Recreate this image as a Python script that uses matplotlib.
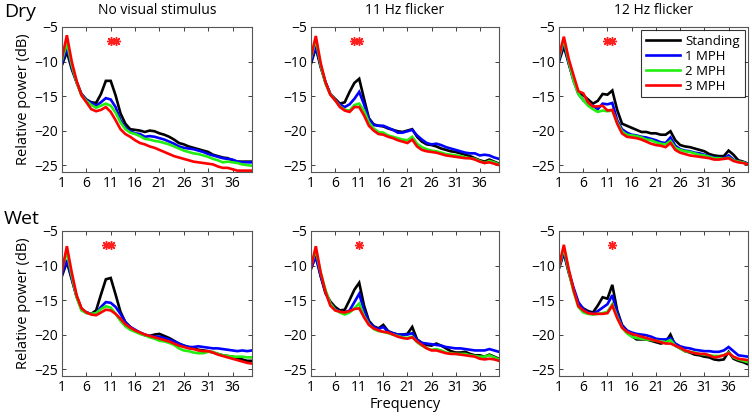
import matplotlib
matplotlib.use("Agg")
import matplotlib.pyplot as plt
import numpy as np

plt.rcParams['font.family'] = ['Open Sans', 'DejaVu Sans']

freq = list(range(1, 41))
series_names = ["Standing", "1 MPH", "2 MPH", "3 MPH"]
series_colors = ["#000000", "#0000ff", "#22ee11", "#ff0000"]
row_labels = ["Dry", "Wet"]
col_titles = ["No visual stimulus", "11 Hz flicker", "12 Hz flicker"]
xticks = [1, 6, 11, 16, 21, 26, 31, 36]
yticks = [-5, -10, -15, -20, -25]

# Dry, no visual stimulus
dry_none_standing = [-10.5, -8.6, -11.1, -13.0, -14.7, -15.5, -15.9, -16.0, -14.7, -12.8, -12.8, -14.9, -17.5, -19.0, -19.8, -19.9, -20.0, -20.2, -20.0, -20.1, -20.4, -20.6, -20.9, -21.3, -21.8, -22.0, -22.3, -22.5, -22.7, -22.9, -23.1, -23.5, -23.7, -23.9, -24.0, -24.3, -24.5, -24.5, -24.5, -24.5]
dry_none_1mph = [-10.3, -8.0, -10.8, -13.0, -14.8, -15.6, -16.0, -16.4, -15.9, -15.3, -15.5, -16.6, -18.5, -19.6, -20.1, -20.4, -20.5, -20.9, -20.8, -20.9, -21.1, -21.3, -21.6, -21.9, -22.3, -22.5, -22.6, -22.7, -22.9, -23.1, -23.4, -23.6, -23.8, -24.0, -24.1, -24.2, -24.5, -24.6, -24.6, -24.6]
dry_none_2mph = [-9.8, -7.3, -10.5, -13.0, -14.9, -15.7, -16.3, -16.7, -16.4, -16.1, -16.4, -17.4, -18.8, -19.8, -20.3, -20.5, -20.8, -21.2, -21.3, -21.5, -21.6, -21.8, -22.0, -22.3, -22.6, -22.9, -23.1, -23.3, -23.4, -23.6, -23.8, -24.1, -24.3, -24.6, -24.5, -24.6, -24.7, -24.9, -25.0, -25.1]
dry_none_3mph = [-9.5, -6.2, -10.0, -12.8, -14.9, -15.9, -16.9, -17.2, -17.0, -16.6, -17.3, -18.5, -19.8, -20.5, -20.9, -21.4, -21.8, -22.0, -22.3, -22.5, -22.8, -23.1, -23.4, -23.7, -23.9, -24.1, -24.3, -24.5, -24.6, -24.7, -24.8, -24.9, -25.2, -25.4, -25.4, -25.6, -25.8, -25.8, -25.8, -25.8]

# Dry, 11 Hz flicker
dry_11_standing = [-10.3, -8.0, -10.8, -13.0, -14.7, -15.4, -16.1, -15.9, -14.4, -13.1, -12.5, -15.4, -18.2, -19.1, -19.3, -19.4, -19.7, -19.9, -20.1, -20.2, -20.0, -19.8, -20.9, -21.6, -22.0, -22.1, -22.3, -22.6, -22.8, -23.0, -23.1, -23.3, -23.5, -23.7, -24.0, -24.3, -24.5, -24.2, -24.5, -24.8]
dry_11_1mph = [-10.0, -7.8, -10.6, -13.0, -14.7, -15.6, -16.2, -16.6, -16.2, -15.4, -14.4, -16.2, -18.3, -19.2, -19.3, -19.3, -19.6, -19.9, -20.3, -20.3, -20.1, -19.9, -20.7, -21.3, -21.8, -22.0, -21.9, -22.1, -22.4, -22.6, -22.8, -23.0, -23.2, -23.3, -23.3, -23.6, -23.5, -23.6, -23.9, -24.1]
dry_11_2mph = [-9.5, -6.8, -10.5, -13.2, -14.7, -15.6, -16.5, -17.0, -17.1, -16.3, -16.1, -17.1, -18.8, -19.7, -20.2, -20.3, -20.7, -20.9, -21.1, -21.3, -21.4, -20.9, -21.9, -22.4, -22.7, -22.9, -23.0, -23.2, -23.4, -23.5, -23.6, -23.7, -23.9, -24.0, -24.1, -24.4, -24.7, -24.4, -24.6, -24.9]
dry_11_3mph = [-9.3, -6.3, -10.2, -13.0, -14.8, -15.6, -16.6, -17.1, -17.3, -16.6, -16.6, -17.8, -19.3, -20.0, -20.5, -20.6, -20.9, -21.1, -21.4, -21.6, -21.8, -21.3, -22.3, -22.8, -23.0, -23.1, -23.2, -23.4, -23.6, -23.7, -23.8, -23.9, -24.0, -24.0, -24.2, -24.5, -24.7, -24.6, -24.8, -25.0]

# Dry, 12 Hz flicker
dry_12_standing = [-10.0, -7.8, -10.3, -12.6, -14.4, -14.9, -15.5, -16.1, -15.7, -14.7, -14.8, -14.2, -17.0, -19.0, -19.3, -19.6, -19.9, -20.2, -20.2, -20.4, -20.4, -20.6, -20.6, -20.1, -21.4, -22.1, -22.3, -22.4, -22.6, -22.8, -23.0, -23.4, -23.6, -23.7, -23.7, -22.9, -23.5, -24.3, -24.5, -24.8]
dry_12_1mph = [-9.8, -7.2, -10.2, -12.8, -14.7, -15.6, -16.2, -16.4, -16.9, -16.1, -16.2, -16.0, -18.5, -19.8, -20.3, -20.6, -20.7, -20.9, -21.0, -21.2, -21.4, -21.7, -21.8, -21.0, -22.2, -22.7, -22.9, -23.0, -23.2, -23.3, -23.5, -23.7, -23.9, -24.0, -24.0, -23.6, -24.2, -24.5, -24.6, -24.8]
dry_12_2mph = [-9.5, -6.8, -10.0, -12.8, -14.7, -15.6, -16.4, -16.9, -17.3, -17.1, -17.2, -17.1, -18.8, -20.1, -20.6, -20.7, -20.8, -21.0, -21.3, -21.4, -21.7, -21.9, -22.0, -21.5, -22.5, -22.8, -23.0, -23.1, -23.3, -23.5, -23.6, -23.8, -24.0, -24.0, -24.1, -23.9, -24.3, -24.5, -24.6, -24.9]
dry_12_3mph = [-9.2, -6.4, -9.6, -12.0, -14.3, -14.6, -15.9, -16.5, -16.5, -16.4, -17.1, -17.0, -19.0, -20.4, -20.9, -21.0, -21.1, -21.3, -21.6, -21.9, -22.1, -22.2, -22.4, -21.8, -22.8, -23.2, -23.4, -23.6, -23.7, -23.8, -23.9, -24.0, -24.2, -24.2, -24.1, -24.0, -24.4, -24.6, -24.7, -24.9]

# Wet, no visual stimulus
wet_none_standing = [-11.5, -9.5, -12.0, -14.5, -16.3, -16.8, -17.0, -16.5, -14.2, -12.0, -11.8, -14.2, -16.7, -18.2, -18.9, -19.4, -19.8, -20.1, -20.2, -20.0, -19.9, -20.2, -20.5, -20.9, -21.3, -21.6, -21.8, -22.0, -22.2, -22.3, -22.4, -22.6, -22.8, -23.0, -23.1, -23.2, -23.4, -23.6, -23.8, -23.8]
wet_none_1mph = [-11.3, -9.2, -11.8, -14.5, -16.3, -16.8, -17.0, -16.9, -16.0, -15.3, -15.4, -16.0, -17.0, -18.2, -18.9, -19.3, -19.7, -20.0, -20.2, -20.3, -20.3, -20.5, -20.7, -21.0, -21.3, -21.6, -21.8, -21.8, -21.7, -21.8, -21.9, -22.0, -22.0, -22.1, -22.2, -22.3, -22.4, -22.3, -22.4, -22.3]
wet_none_2mph = [-10.5, -8.0, -11.5, -14.6, -16.5, -16.9, -17.0, -16.9, -16.3, -15.9, -16.1, -17.0, -18.0, -18.8, -19.3, -19.6, -19.9, -20.1, -20.4, -20.6, -20.9, -21.0, -21.2, -21.5, -22.0, -22.3, -22.4, -22.6, -22.7, -22.7, -22.5, -22.5, -22.8, -23.0, -23.1, -23.2, -23.2, -23.2, -23.3, -23.3]
wet_none_3mph = [-10.8, -7.2, -11.0, -14.3, -16.2, -16.8, -17.1, -17.2, -16.8, -16.4, -16.5, -17.0, -17.7, -18.5, -19.0, -19.4, -19.7, -20.0, -20.2, -20.4, -20.6, -20.8, -21.0, -21.3, -21.6, -21.8, -22.0, -22.1, -22.3, -22.4, -22.4, -22.6, -22.9, -23.1, -23.3, -23.5, -23.7, -23.9, -24.1, -24.2]

# Wet, 11 Hz flicker
wet_11_standing = [-10.5, -8.5, -11.5, -14.0, -15.2, -16.0, -16.5, -16.4, -15.0, -13.5, -12.5, -15.8, -18.0, -18.8, -19.1, -18.6, -19.5, -19.8, -20.0, -20.0, -19.9, -18.9, -20.7, -21.2, -21.5, -21.6, -21.3, -21.6, -22.0, -22.4, -22.6, -22.6, -22.5, -22.8, -23.0, -23.0, -23.2, -22.9, -23.2, -23.5]
wet_11_1mph = [-10.3, -8.8, -11.5, -13.8, -15.5, -16.3, -16.7, -16.8, -16.5, -15.3, -14.1, -16.5, -18.2, -18.9, -19.2, -18.9, -19.6, -19.8, -20.0, -20.0, -20.0, -19.8, -20.8, -21.2, -21.3, -21.4, -21.5, -21.6, -21.8, -21.9, -22.0, -22.0, -22.1, -22.2, -22.3, -22.3, -22.3, -22.1, -22.3, -22.5]
wet_11_2mph = [-10.0, -7.8, -11.0, -13.5, -15.5, -16.4, -16.8, -17.1, -16.8, -16.2, -15.5, -17.3, -18.5, -19.2, -19.5, -19.6, -19.8, -20.0, -20.2, -20.4, -20.5, -20.3, -21.1, -21.6, -22.0, -22.2, -22.1, -22.3, -22.6, -22.7, -22.8, -22.8, -22.8, -23.0, -23.1, -23.2, -23.2, -23.0, -23.3, -23.6]
wet_11_3mph = [-10.3, -7.2, -11.0, -13.8, -15.8, -16.5, -16.7, -16.8, -16.6, -16.3, -16.2, -17.5, -18.6, -19.1, -19.4, -19.6, -19.7, -20.0, -20.3, -20.5, -20.6, -20.4, -21.0, -21.5, -22.0, -22.3, -22.3, -22.5, -22.7, -22.8, -22.8, -22.9, -23.0, -23.1, -23.2, -23.5, -23.6, -23.5, -23.6, -23.8]

# Wet, 12 Hz flicker
wet_12_standing = [-10.4, -8.2, -11.0, -13.5, -15.5, -16.2, -16.6, -16.8, -15.8, -14.6, -14.8, -12.8, -16.5, -18.6, -19.4, -20.2, -20.7, -20.7, -20.7, -20.9, -21.1, -21.3, -21.1, -20.0, -21.6, -22.0, -22.4, -22.6, -22.9, -23.0, -23.2, -23.3, -23.6, -23.7, -23.6, -22.5, -23.5, -23.8, -24.0, -24.3]
wet_12_1mph = [-10.3, -8.0, -10.8, -13.2, -15.3, -16.3, -16.8, -17.0, -16.6, -16.1, -15.6, -14.3, -16.8, -18.7, -19.4, -19.7, -19.9, -20.0, -20.1, -20.3, -20.6, -20.7, -20.7, -20.5, -21.3, -21.7, -21.9, -22.0, -22.2, -22.3, -22.4, -22.4, -22.5, -22.5, -22.3, -21.8, -22.4, -23.0, -23.1, -23.2]
wet_12_2mph = [-10.2, -7.5, -10.8, -13.8, -16.0, -16.8, -17.0, -17.1, -17.0, -16.9, -16.7, -15.6, -17.4, -19.0, -19.8, -20.3, -20.5, -20.6, -20.7, -20.8, -20.9, -21.0, -21.1, -20.8, -21.6, -22.0, -22.4, -22.5, -22.6, -22.8, -22.9, -23.0, -23.1, -23.1, -23.0, -22.6, -23.3, -23.6, -23.8, -24.0]
wet_12_3mph = [-10.1, -7.0, -10.5, -13.5, -15.9, -16.5, -16.9, -17.0, -17.0, -17.0, -16.9, -15.8, -17.6, -19.0, -19.6, -19.9, -20.1, -20.3, -20.5, -20.7, -20.9, -21.1, -21.3, -21.3, -21.6, -21.9, -22.3, -22.5, -22.7, -22.8, -22.8, -23.0, -23.3, -23.2, -23.0, -22.7, -23.2, -23.5, -23.6, -23.7]

# Significance markers (frequency positions), plotted at this level
sig_level = -7
sig_freqs = [[[11, 12], [10, 11], [11, 12]],
             [[10, 11], [11], [12]]]

panels = [
    [[dry_none_standing, dry_none_1mph, dry_none_2mph, dry_none_3mph],
     [dry_11_standing, dry_11_1mph, dry_11_2mph, dry_11_3mph],
     [dry_12_standing, dry_12_1mph, dry_12_2mph, dry_12_3mph]],
    [[wet_none_standing, wet_none_1mph, wet_none_2mph, wet_none_3mph],
     [wet_11_standing, wet_11_1mph, wet_11_2mph, wet_11_3mph],
     [wet_12_standing, wet_12_1mph, wet_12_2mph, wet_12_3mph]],
]

W, H = 752, 416
fig = plt.figure(figsize=(W / 100, H / 100), dpi=100)

lefts = [62, 311, 559]
widths = [190, 188, 189]
tops = [27, 231]
ax_h = 145

for r in range(2):
    for c in range(3):
        ax = fig.add_axes([lefts[c] / W, 1 - (tops[r] + ax_h) / H, widths[c] / W, ax_h / H])
        for s in range(4):
            ax.plot(freq, panels[r][c][s], color=series_colors[s], lw=1.9,
                    label=series_names[s], solid_joinstyle='miter')
        sf = sig_freqs[r][c]
        ax.plot(sf, [sig_level] * len(sf), linestyle='none', marker=(8, 2, 0),
                color='#ff2020', markersize=6.5, mew=1.0)
        ax.set_xlim(1, 40)
        ax.set_ylim(-26, -5)
        ax.set_xticks(xticks)
        ax.set_yticks(yticks)
        ax.set_yticklabels(["\u22125", "\u221210", "\u221215", "\u221220", "\u221225"])
        ax.tick_params(direction='in', top=True, right=True, length=3, width=0.6,
                       labelsize=10, pad=3, colors='#222222', labelcolor='black')
        for sp in ax.spines.values():
            sp.set_color('#555555')
            sp.set_linewidth(0.8)
        if r == 0:
            ax.set_title(col_titles[c], fontsize=10, pad=9)
        if c == 0:
            ax.set_ylabel("Relative power (dB)", fontsize=10.5, labelpad=2)
        if r == 0 and c == 2:
            leg = ax.legend(loc='upper right', fontsize=9.5, frameon=True, fancybox=False,
                            edgecolor='black', handlelength=2.6, handletextpad=0.4,
                            borderpad=0.35, labelspacing=0.15, borderaxespad=0.25)
            leg.get_frame().set_linewidth(0.8)
        if r == 1 and c == 1:
            ax.set_xlabel("Frequency", fontsize=10.5, labelpad=1)

fig.text(4 / W, 1 - 12 / H, row_labels[0], fontsize=14, va='center', ha='left')
fig.text(4 / W, 1 - 219 / H, row_labels[1], fontsize=14, va='center', ha='left')

fig.savefig("out.png", dpi=100)
